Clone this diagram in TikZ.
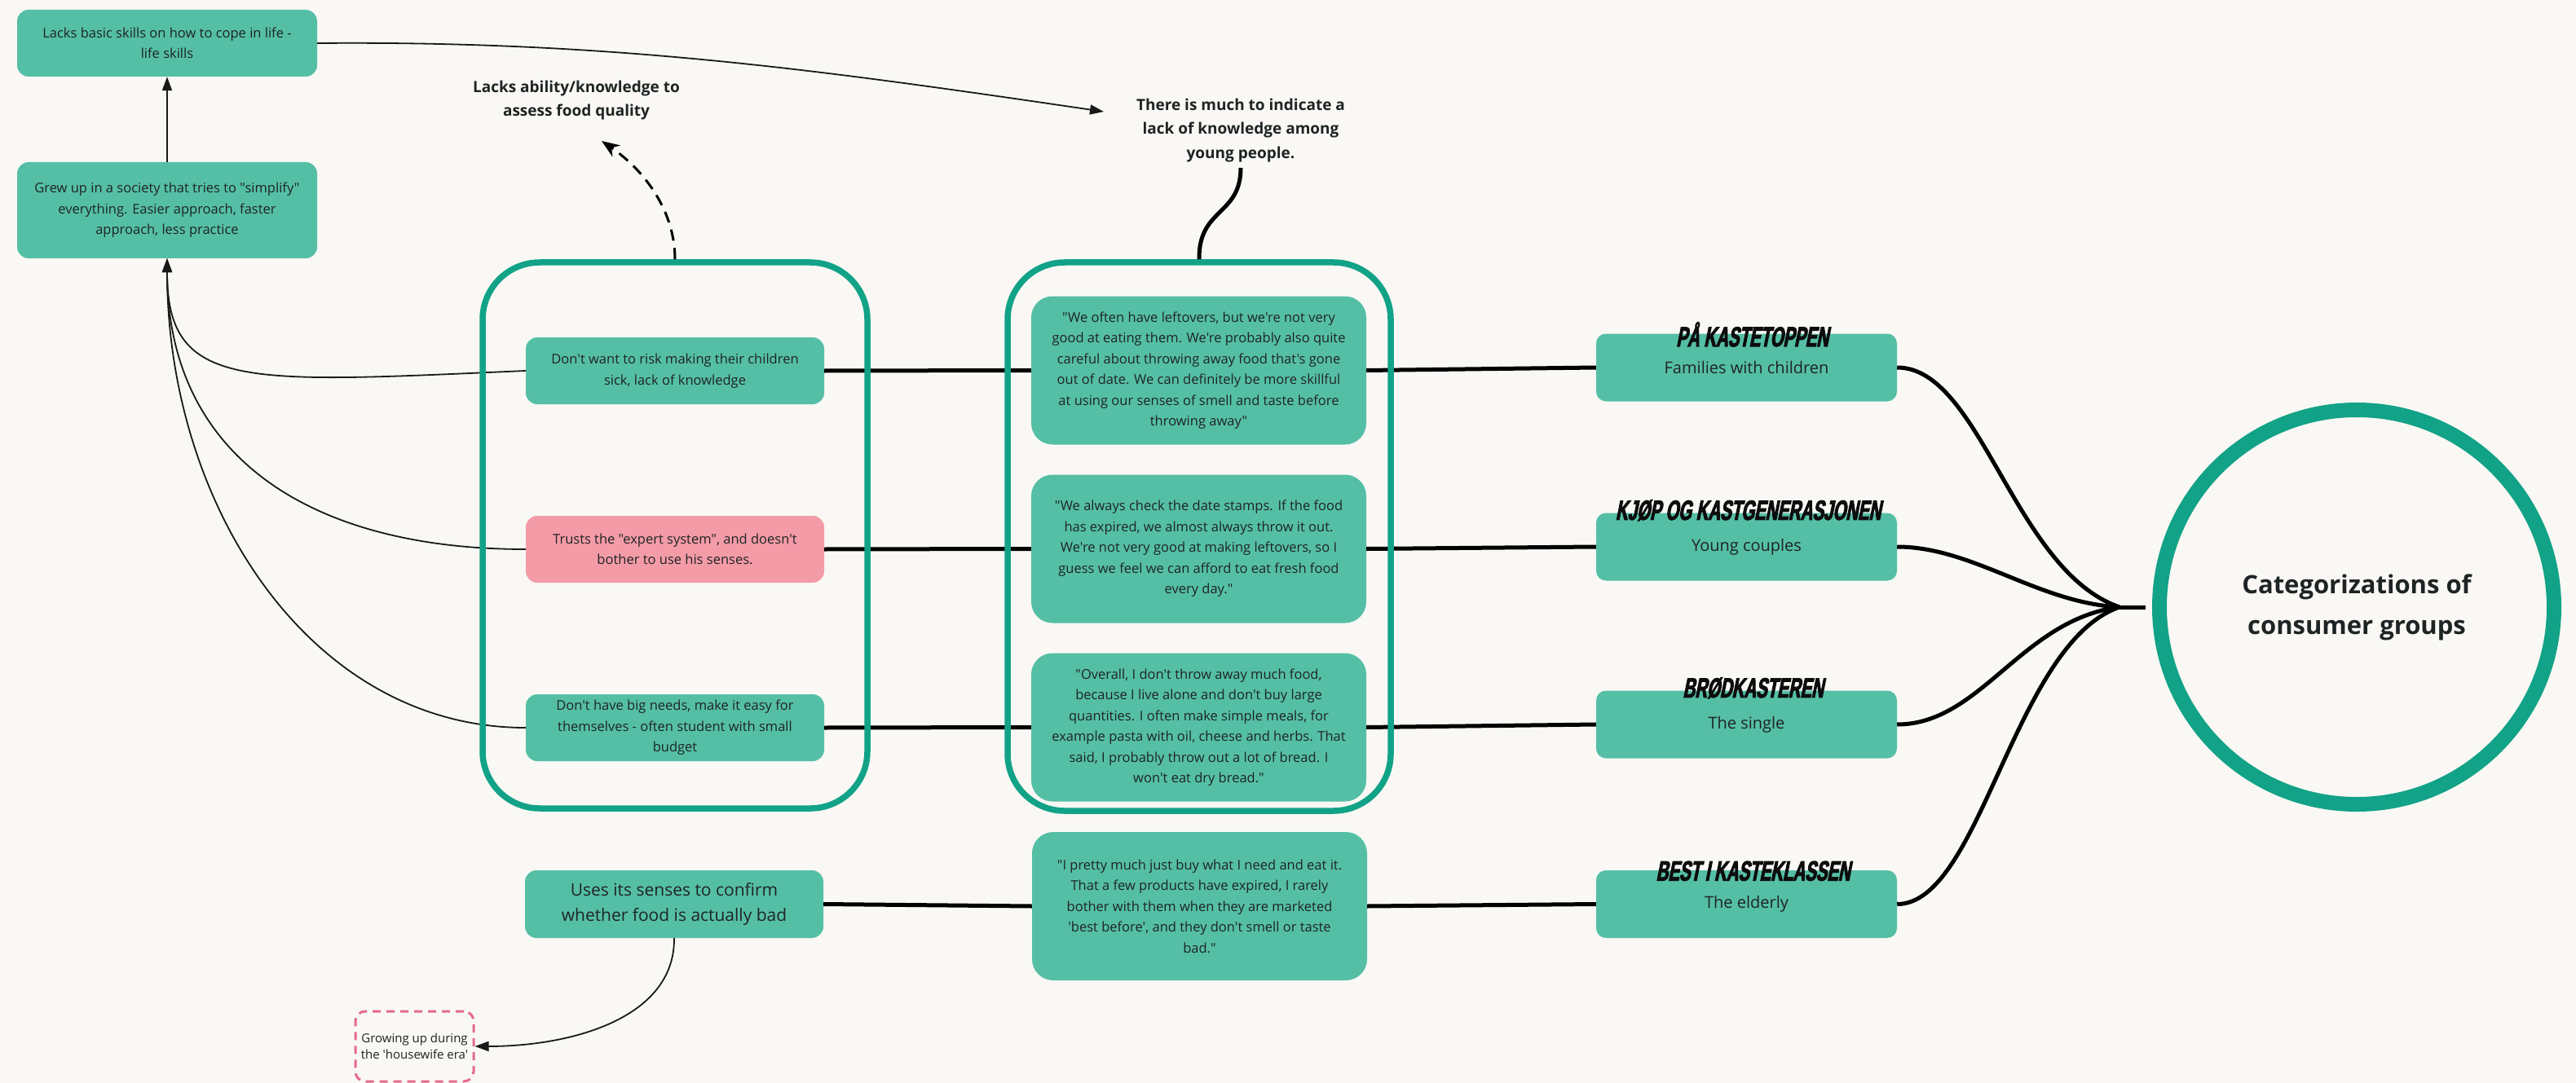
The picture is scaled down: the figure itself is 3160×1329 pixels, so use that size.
\documentclass[tikz,border=0pt]{standalone}
\usepackage{fontspec}
\setmainfont{Open Sans}[Ligatures=TeXOff]
\newfontfamily\titlefont[FakeStretch=0.6,FakeSlant=0.2,FakeBold=3]{Liberation Sans}
\usetikzlibrary{arrows.meta}

\definecolor{paper}{HTML}{F9F8F4}
\definecolor{boxteal}{HTML}{55BFA6}
\definecolor{rimteal}{HTML}{12A287}
\definecolor{boxpink}{HTML}{F49BA8}
\definecolor{dashpink}{HTML}{E46A8A}
\definecolor{ink}{HTML}{1E2424}

\begin{document}
\begin{tikzpicture}[x=1pt,y=-1pt,
  card/.style={fill=boxteal, rounded corners=14pt, inner sep=0pt, align=center,
    text=ink, font=\fontsize{16.5}{25.5}\selectfont,
    minimum width=366pt, minimum height=82pt},
  pinkcard/.style={card, fill=boxpink},
  quotecard/.style={card, rounded corners=26pt, minimum width=411pt, minimum height=182pt},
  groupcard/.style={fill=boxteal, rounded corners=12pt, inner sep=0pt, text=ink,
    font=\fontsize{20}{26}\selectfont, minimum width=369pt, minimum height=83pt},
  grouptitle/.style={inner sep=0pt, text=black!95,
    font=\titlefont\bfseries\fontsize{34}{34}\selectfont},
  note/.style={inner sep=6pt, align=center, text=ink,
    font=\bfseries\fontsize{19}{29.5}\selectfont},
  frame/.style={draw=rimteal, line width=7.5pt, rounded corners=70pt, inner sep=0pt},
  thinlink/.style={draw=black!90, line width=1.8pt, -{Triangle[length=17pt,width=12pt]}},
  heavylink/.style={draw=black, line width=5pt},
  dashlink/.style={draw=black, line width=3pt, dash pattern=on 14pt off 9pt,
    -{Stealth[length=22pt,width=17pt]}}
]

% canvas
\fill[paper] (0,0) rectangle (3160,1329);
\useasboundingbox (0,0) rectangle (3160,1329);

% left column
\node[card, minimum width=368pt] (lacks) at (205,53)
  {Lacks basic skills on how to cope in life -\\life skills};
\node[card, minimum width=368pt, minimum height=118pt] (grew) at (205,258)
  {Grew up in a society that tries to "simplify"\\everything. Easier approach, faster\\approach, less practice};

% behaviour boxes
\node[card] (l1) at (828,455) {Don't want to risk making their children\\sick, lack of knowledge};
\node[pinkcard] (l2) at (828,674) {Trusts the "expert system", and doesn't\\bother to use his senses.};
\node[card] (l3) at (828,893) {Don't have big needs, make it easy for\\themselves - often student with small\\budget};
\node[card, minimum height=83pt, font=\fontsize{21}{31}\selectfont] (senses) at (827,1109.5)
  {Uses its senses to confirm\\whether food is actually bad};
\node[draw=dashpink, line width=3pt, dash pattern=on 10pt off 7pt, rounded corners=12pt,
  inner sep=0pt, minimum width=145pt, minimum height=86pt, align=center, text=ink,
  font=\fontsize{15}{20}\selectfont] (housewife) at (508.5,1284)
  {Growing up during\\the 'housewife era'};

% quotes
\node[quotecard] (q1) at (1470.5,454.5)
  {"We often have leftovers, but we're not very\\good at eating them. We're probably also quite\\careful about throwing away food that's gone\\out of date. We can definitely be more skillful\\at using our senses of smell and taste before\\throwing away"};
\node[quotecard] (q2) at (1470.5,673.5)
  {"We always check the date stamps. If the food\\has expired, we almost always throw it out.\\We're not very good at making leftovers, so I\\guess we feel we can afford to eat fresh food\\every day."};
\node[quotecard] (q3) at (1470.5,892.5)
  {"Overall, I don't throw away much food,\\because I live alone and don't buy large\\quantities. I often make simple meals, for\\example pasta with oil, cheese and herbs. That\\said, I probably throw out a lot of bread. I\\won't eat dry bread."};
\node[quotecard] (q4) at (1471.5,1112)
  {"I pretty much just buy what I need and eat it.\\That a few products have expired, I rarely\\bother with them when they are marketed\\'best before', and they don't smell or taste\\bad."};

% consumer groups
\node[groupcard] (c1) at (2142.5,451) {Families with children};
\node[groupcard] (c2) at (2142.5,671) {Young couples};
\node[groupcard] (c3) at (2142.5,889) {The single};
\node[groupcard] (c4) at (2142.5,1109.5) {The elderly};
\node[grouptitle, xshift=7pt, yshift=-1pt] (t1) at (c1.north) {PÅ KASTETOPPEN};
\node[grouptitle, xshift=2pt, yshift=3pt] (t2) at (c2.north) {KJØP OG KASTGENERASJONEN};
\node[grouptitle, xshift=8pt, yshift=3pt] (t3) at (c3.north) {BRØDKASTEREN};
\node[grouptitle, xshift=8pt, yshift=-1pt] (t4) at (c4.north) {BEST I KASTEKLASSEN};

\node[circle, draw=rimteal, line width=18pt, minimum size=484pt, inner sep=0pt,
  align=center, text=ink, font=\bfseries\fontsize{31}{50}\selectfont] (hubcircle) at (2891,745)
  {Categorizations of\\consumer groups};

% free-standing remarks
\node[note] (ability) at (707,123.3) {Lacks ability/knowledge to\\assess food quality};
\node[note] (indic) at (1522,159.8) {There is much to indicate a\\lack of knowledge among\\young people.};
\coordinate (abilitypt) at (738,173);
\coordinate (indicpt) at (1354,137);
\coordinate (indicfoot) at (1522,206);
\coordinate (hub) at (2600,745);

% connectors
\draw[thinlink] (grew.north) -- (lacks.south);
\draw[thinlink] (lacks.east) .. controls (750,50) and (1000,85) .. (indicpt);
\draw[thinlink] (l1.west) .. controls (300,470) and (205,480) .. (grew.south);
\draw[thinlink] (l2.west) .. controls (380,674) and (205,560) .. (grew.south);
\draw[thinlink] (l3.west) .. controls (380,893) and (205,620) .. (grew.south);
\draw[thinlink] (senses.south) .. controls (828,1250) and (700,1284) .. (housewife.east);

\draw[heavylink] (l1.east) -- (q1.west);
\draw[heavylink] (l2.east) -- (q2.west);
\draw[heavylink] (l3.east) -- (q3.west);
\draw[heavylink] (senses.east) -- (q4.west);
\draw[heavylink] (q1.east) -- (c1.west);
\draw[heavylink] (q2.east) -- (c2.west);
\draw[heavylink] (q3.east) -- (c3.west);
\draw[heavylink] (q4.east) -- (c4.west);

\draw[heavylink] (c1.east) .. controls (2430,451) and (2470,700) .. (hub);
\draw[heavylink] (c2.east) .. controls (2420,671) and (2500,740) .. (hub);
\draw[heavylink] (c3.east) .. controls (2430,889) and (2480,760) .. (hub);
\draw[heavylink] (c4.east) .. controls (2430,1109.5) and (2470,790) .. (hub);
\draw[heavylink, shorten >=8pt] (hub) -- (hubcircle.west);

% grouping frames, drawn over the links
\node[frame, minimum width=472pt, minimum height=670pt] (leftgroup) at (828,657) {};
\node[frame, minimum width=470pt, minimum height=673pt] (rightgroup) at (1471,658.5) {};

\draw[dashlink] (leftgroup.north) .. controls (828,260) and (792,210) .. (abilitypt);
\draw[heavylink] (indicfoot) .. controls (1522,265) and (1470,255) .. (rightgroup.north);

\end{tikzpicture}
\end{document}
